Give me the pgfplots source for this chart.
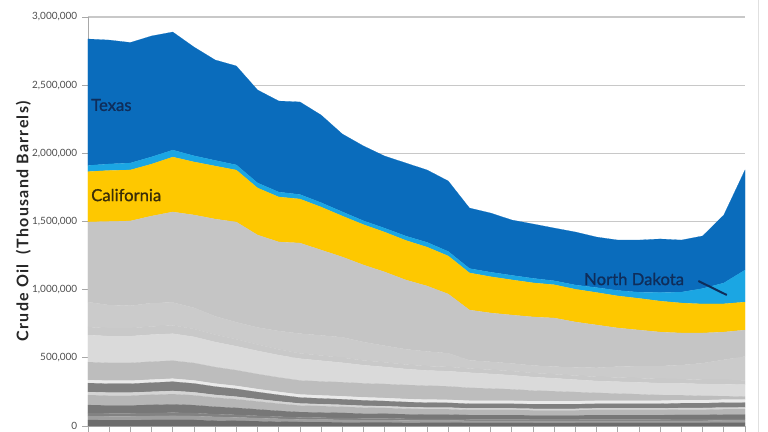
\documentclass[border=0pt]{standalone}
\usepackage{pgfplots}
\pgfplotsset{compat=1.18}
\usepackage{pgfplotstable}
\usepackage{fontspec}
\setmainfont{Lato}

\definecolor{g1}{HTML}{6C6C6C}
\definecolor{g2}{HTML}{9E9E9E}
\definecolor{g3}{HTML}{828282}
\definecolor{g4}{HTML}{777777}
\definecolor{g5}{HTML}{B6B6B6}
\definecolor{g6}{HTML}{D4D4D4}
\definecolor{g7}{HTML}{808080}
\definecolor{g8}{HTML}{EAEAEA}
\definecolor{g9}{HTML}{BDBDBD}
\definecolor{g10}{HTML}{DADADA}
\definecolor{g11}{HTML}{C9C9C9}
\definecolor{g12}{HTML}{CBCBCB}
\definecolor{ak}{HTML}{C5C5C5}
\definecolor{ca}{HTML}{FEC800}
\definecolor{nd}{HTML}{1BA6E3}
\definecolor{tx}{HTML}{0A6CBC}
\definecolor{navytext}{HTML}{0F2D5A}
\definecolor{catext}{HTML}{3A2D08}
\definecolor{gridc}{HTML}{C8C8C8}
\definecolor{axisc}{HTML}{A8A8A8}
\definecolor{ticktext}{HTML}{4D4D4D}

\pgfplotstableread{
year G1 G2 G3 G4 G5 G6 G7 G8 G9 G10 G11 G12 AK CA ND TX
1981 44000 29000 22000 59000 73000 22000 66000 22000 132000 198000 59000 183000 587000 370000 45000 928000
1982 43000 28000 22000 58000 72000 22000 65000 22000 131000 196000 58000 170000 613000 374000 48000 909000
1983 43000 28000 22000 58000 72000 22000 65000 22000 131000 196000 58000 165000 622000 374000 51000 884000
1984 44000 29000 22000 60000 74000 22000 67000 22000 132000 198000 60000 172000 638000 381000 53000 887000
1985 45000 30000 23000 61000 75000 23000 68000 22000 132000 198000 61000 168000 664000 403000 51000 866000
1986 44000 29000 22000 58000 72000 22000 65000 22000 128000 192000 58000 155000 681000 389000 45000 798000
1987 40000 27000 20000 54000 67000 20000 61000 22000 121000 184000 54000 135000 713000 389000 41000 737000
1988 38000 25000 19000 51000 63000 19000 57000 22000 115000 176000 51000 125000 735000 381000 38000 726000
1989 35000 23000 17000 47000 58000 17000 52000 22000 110000 170000 47000 125000 678000 345000 37000 682000
1990 32000 21000 16000 42000 53000 16000 48000 22000 106000 164000 42000 135000 653000 330000 36000 668000
1991 29000 19000 15000 39000 48000 15000 44000 22000 103000 160000 39000 145000 664000 323000 33000 679000
1992 28000 19000 14000 38000 47000 14000 42000 22000 103000 152000 38000 148000 626000 315000 32000 643000
1993 27000 18000 14000 37000 45000 14000 41000 22000 103000 143000 37000 150000 589000 300000 31000 571000
1994 26000 17000 13000 35000 44000 13000 40000 22000 103000 133000 35000 135000 565000 296000 28000 549000
1995 26000 17000 13000 34000 42000 13000 38000 22000 103000 125000 34000 122000 541000 292000 29000 529000
1996 25000 16000 12000 33000 41000 12000 37000 22000 103000 117000 33000 112000 508000 290000 32000 536000
1997 24000 16000 12000 32000 39000 12000 36000 22000 103000 111000 32000 108000 480000 285000 35000 531000
1998 24000 16000 12000 32000 39000 12000 35000 22000 99000 111000 32000 100000 434000 279000 33000 517000
1999 23000 15000 11000 31000 38000 11000 34000 22000 95000 111000 31000 60000 369000 272000 32000 444000
2000 23000 15000 11000 31000 38000 11000 34000 22000 90000 107000 31000 58000 358000 266000 33000 434000
2001 23000 15000 11000 31000 38000 11000 34000 22000 84000 103000 31000 56000 355000 258000 33000 406000
2002 22000 15000 11000 30000 37000 11000 34000 22000 78000 99000 30000 55000 356000 250000 33000 399000
2003 22000 15000 11000 30000 37000 11000 34000 22000 73000 95000 30000 56000 356000 244000 29000 387000
2004 22000 15000 11000 30000 37000 11000 34000 22000 67000 91000 30000 60000 333000 240000 31000 389000
2005 23000 15000 11000 31000 38000 11000 34000 22000 58000 87000 31000 66000 314000 238000 36000 371000
2006 23000 15000 11000 31000 38000 11000 34000 22000 53000 87000 31000 80000 283000 235000 40000 370000
2007 23000 15000 11000 31000 38000 11000 34000 22000 48000 87000 31000 88000 265000 232000 45000 383000
2008 23000 15000 11000 31000 38000 11000 34000 22000 42000 87000 31000 95000 249000 227000 63000 393000
2009 23000 15000 12000 31000 39000 12000 35000 22000 37000 87000 31000 103000 235000 220000 80000 382000
2010 23000 15000 12000 31000 39000 12000 35000 22000 32000 87000 31000 122000 221000 213000 113000 386000
2011 24000 16000 12000 32000 39000 12000 36000 22000 26000 87000 32000 148000 203000 207000 153000 499000
2012 24000 16000 12000 32000 40000 12000 36000 22000 22000 87000 32000 175000 194000 205000 235000 734000
}\data

\newcommand{\lab}{\fontsize{12.5}{14}\selectfont\addfontfeature{FakeBold=1}}

\begin{document}
\begin{tikzpicture}
\begin{axis}[
  scale only axis,
  width=492.75pt, height=306.75pt,
  xmin=1981, xmax=2012, ymin=0, ymax=3000000,
  stack plots=y,
  axis lines*=left,
  axis line style={axisc, line width=0.6pt},
  xtick={1981,...,2012}, xticklabels={},
  ytick={0,500000,1000000,1500000,2000000,2500000,3000000},
  scaled y ticks=false,
  tick align=outside,
  major tick length=4.5pt,
  tick style={axisc, line width=0.6pt},
  ymajorgrids,
  grid style={gridc, line width=0.8pt},
  yticklabel style={font=\fontsize{7.5}{9}\selectfont, text=ticktext,
    /pgf/number format/.cd, fixed, precision=0, 1000 sep={,}, assume math mode=true},
  ylabel={Crude Oil\ \ (Thousand Barrels)},
  ylabel style={font=\fontsize{12}{14}\bfseries\selectfont\addfontfeature{LetterSpace=8}, text=black!85},
  ylabel shift=-6pt,
  clip=false,
]
\addplot[fill=g1, draw=g1, line width=0.1pt] table[x=year,y=G1]{\data} \closedcycle;
\addplot[fill=g2, draw=g2, line width=0.1pt] table[x=year,y=G2]{\data} \closedcycle;
\addplot[fill=g3, draw=g3, line width=0.1pt] table[x=year,y=G3]{\data} \closedcycle;
\addplot[fill=g4, draw=g4, line width=0.1pt] table[x=year,y=G4]{\data} \closedcycle;
\addplot[fill=g5, draw=g5, line width=0.1pt] table[x=year,y=G5]{\data} \closedcycle;
\addplot[fill=g6, draw=g6, line width=0.1pt] table[x=year,y=G6]{\data} \closedcycle;
\addplot[fill=g7, draw=g7, line width=0.1pt] table[x=year,y=G7]{\data} \closedcycle;
\addplot[fill=g8, draw=g8, line width=0.1pt] table[x=year,y=G8]{\data} \closedcycle;
\addplot[fill=g9, draw=g9, line width=0.1pt] table[x=year,y=G9]{\data} \closedcycle;
\addplot[fill=g10, draw=g10, line width=0.1pt] table[x=year,y=G10]{\data} \closedcycle;
\addplot[fill=g11, draw=g11, line width=0.1pt] table[x=year,y=G11]{\data} \closedcycle;
\addplot[fill=g12, draw=g12, line width=0.1pt] table[x=year,y=G12]{\data} \closedcycle;
\addplot[fill=ak, draw=ak, line width=0.1pt] table[x=year,y=AK]{\data} \closedcycle;
\addplot[fill=ca, draw=ca, line width=0.1pt] table[x=year,y=CA]{\data} \closedcycle;
\addplot[fill=nd, draw=nd, line width=0.1pt] table[x=year,y=ND]{\data} \closedcycle;
\addplot[fill=tx, draw=tx, line width=0.1pt] table[x=year,y=TX]{\data} \closedcycle;

\coordinate (txlab) at (axis cs:1981.14,2354500);
\coordinate (calab) at (axis cs:1981.14,1694000);
\coordinate (ndlab) at (axis cs:2004.4,1078000);
\coordinate (p1) at (axis cs:2009.8,1063600);
\coordinate (p2) at (axis cs:2011.14,960900);
\end{axis}
\node[anchor=west, text=navytext, font=\lab, inner sep=0pt] at (txlab) {Texas};
\node[anchor=west, text=catext, font=\lab, inner sep=0pt] at (calab) {California};
\node[anchor=west, text=navytext, font=\lab, inner sep=0pt] at (ndlab) {North Dakota};
\draw[navytext, line width=1.5pt] (p1) -- (p2);
\draw[color=black!12, line width=0.75pt] (502.5pt,-4.5pt) -- (502.5pt,319.5pt);
\pgfresetboundingbox
\path (-66pt,-4.5pt) rectangle (510pt,319.5pt);
\end{tikzpicture}
\end{document}
